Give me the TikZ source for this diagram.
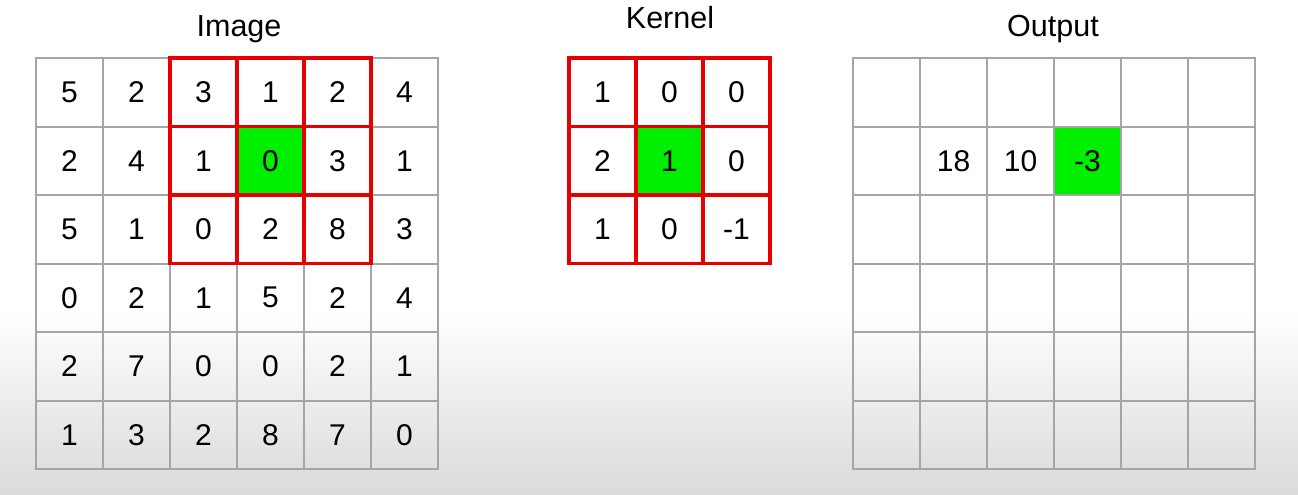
\documentclass[tikz,border=0pt]{standalone}
\usepackage{fontspec}
\setmainfont{Liberation Sans}
\definecolor{gridgray}{RGB}{165,165,165}
\definecolor{kred}{RGB}{232,0,0}
\definecolor{hgreen}{RGB}{0,238,0}
\definecolor{bgbot}{RGB}{218,218,218}
\begin{document}
\begin{tikzpicture}[x=1pt,y=-1pt,
  cell/.style={draw=gridgray, line width=2pt, minimum width=67pt, minimum height=68.5pt,
    inner sep=0pt, outer sep=0pt, anchor=north west, font=\fontsize{30}{31}\selectfont},
  redcell/.style={draw=kred, line width=3.2pt},
  title/.style={font=\fontsize{30.5}{31}\selectfont, inner sep=0pt, anchor=base}]
\useasboundingbox (0,0) rectangle (1298,495);
\fill[white] (0,0) rectangle (1298,310);
\shade[top color=white, bottom color=bgbot] (0,310) rectangle (1298,495);

% titles
\node[title] (timg) at (239,36.5) {Image};
\node[title] (tker) at (670,29) {Kernel};
\node[title] (tout) at (1053,37) {Output};

% image grid
\foreach \row [count=\r from 0] in {{5,2,3,1,2,4},{2,4,1,0,3,1},{5,1,0,2,8,3},{0,2,1,5,2,4},{2,7,0,0,2,1},{1,3,2,8,7,0}} {
  \foreach \v [count=\c from 0] in \row {
    \def\fillc{none}
    \ifnum\r=1 \ifnum\c=3 \def\fillc{hgreen}\fi\fi
    \node[cell, fill=\fillc] (img-\r-\c) at (36+67*\c, 58+68.5*\r) {\v};
  }
}
\foreach \r in {0,1,2} {
  \foreach \c in {2,3,4} {
    \draw[redcell] (img-\r-\c.north west) rectangle (img-\r-\c.south east);
  }
}

% kernel grid
\foreach \row [count=\r from 0] in {{1,0,0},{2,1,0},{1,0,-1}} {
  \foreach \v [count=\c from 0] in \row {
    \def\fillc{none}
    \ifnum\r=1 \ifnum\c=1 \def\fillc{hgreen}\fi\fi
    \node[cell, redcell, fill=\fillc] (ker-\r-\c) at (569+67*\c, 58+68.5*\r) {\v};
  }
}
\foreach \r in {0,1,2} {
  \foreach \c in {0,1,2} {
    \draw[redcell] (ker-\r-\c.north west) rectangle (ker-\r-\c.south east);
  }
}

% output grid
\foreach \r in {0,...,5} {
  \foreach \c in {0,...,5} {
    \def\fillc{none}
    \def\val{}
    \ifnum\r=1
      \ifnum\c=1 \def\val{18}\fi
      \ifnum\c=2 \def\val{10}\fi
      \ifnum\c=3 \def\val{-3}\def\fillc{hgreen}\fi
    \fi
    \node[cell, fill=\fillc] (out-\r-\c) at (853+67*\c, 58+68.5*\r) {\val};
  }
}
\foreach \r in {0,...,5} {
  \foreach \c in {0,...,5} {
    \draw[draw=gridgray, line width=2pt] (out-\r-\c.north west) rectangle (out-\r-\c.south east);
  }
}
\end{tikzpicture}
\end{document}
